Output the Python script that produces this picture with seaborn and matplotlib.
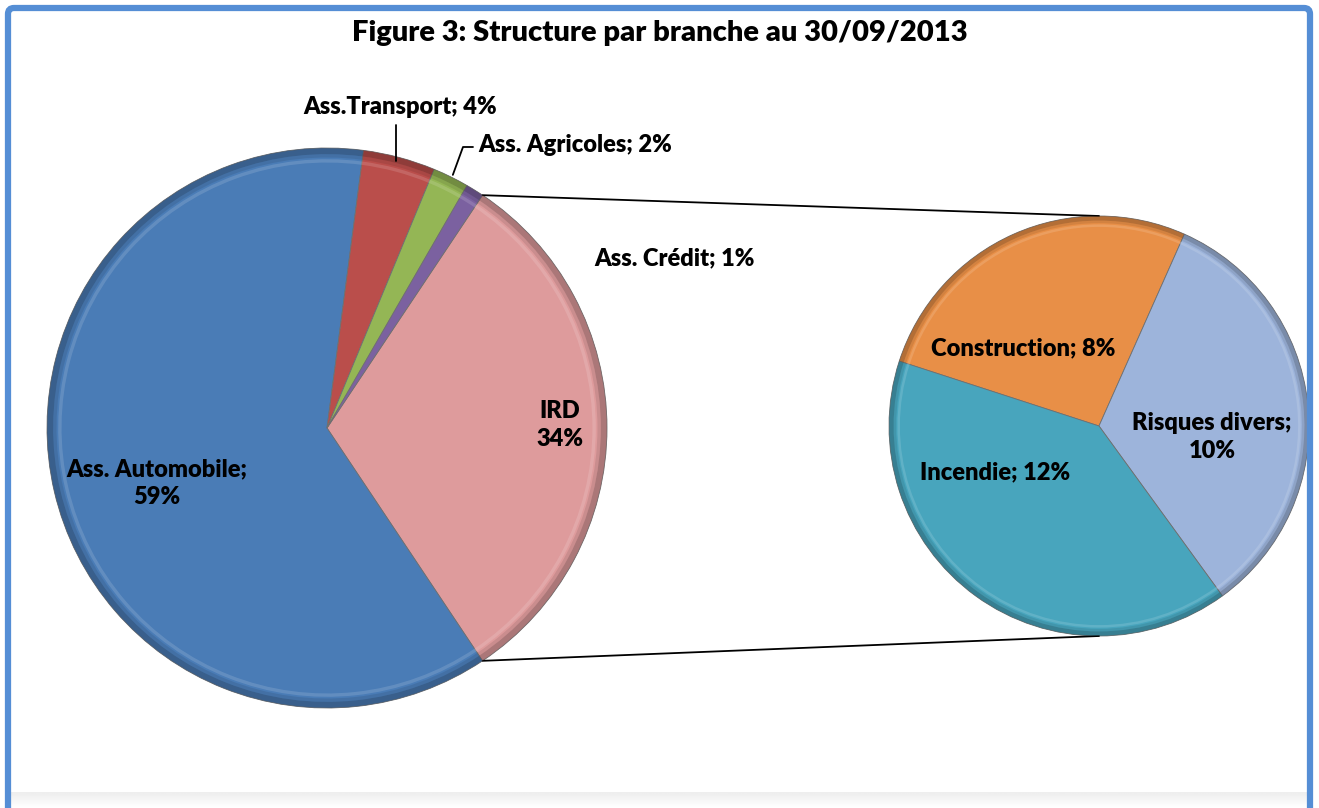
import numpy as np
import matplotlib.pyplot as plt
import matplotlib.patches as mpatches
import seaborn as sns

# Seaborn style, then the font list
sns.set_style("white")
plt.rcParams['font.family'] = ['Lato', 'DejaVu Sans']
plt.rcParams['text.color'] = 'black'

# Data
branches = ['Ass. Automobile', 'Ass.Transport', 'Ass. Agricoles', 'Ass. Crédit']
branch_values = [59, 4, 2, 1]
branch_labels = ['Ass. Automobile;\n59%', 'Ass.Transport; 4%', 'Ass. Agricoles; 2%', 'Ass. Crédit; 1%']
ird_label = 'IRD\n34%'

ird_parts = ['Construction', 'Risques divers', 'Incendie']
ird_values = [8, 10, 12]
ird_part_labels = ['Construction; 8%', 'Risques divers;\n10%', 'Incendie; 12%']

branch_colors = ['#4A7CB6', '#BA4E4B', '#94B655', '#7B61A0']
ird_color = '#DE9B9C'
part_colors = ['#E88F47', '#9DB4DB', '#48A5BD']

title = 'Figure 3: Structure par branche au 30/09/2013'

# Figure in pixel coordinates
W, H = 1319, 808
fig = plt.figure(figsize=(W / 100, H / 100), dpi=100)
ax = fig.add_axes([0, 0, 1, 1])


def bevel(wedges):
    # rough imitation of the Excel bevel: dark rim + light inner line
    for w in wedges:
        fc = np.array(w.get_facecolor()[:3])
        dark = fc * 0.55
        light = np.clip(fc + (1 - fc) * 0.3, 0, 1)
        r = w.r
        ax.add_patch(mpatches.Wedge(w.center, r, w.theta1, w.theta2, width=r * 0.022,
                                    facecolor=dark, edgecolor='none', alpha=0.5, zorder=3))
        ax.add_patch(mpatches.Wedge(w.center, r * 0.978, w.theta1, w.theta2, width=r * 0.012,
                                    facecolor=dark, edgecolor='none', alpha=0.2, zorder=3))
        ax.add_patch(mpatches.Wedge(w.center, r * 0.96, w.theta1, w.theta2, width=r * 0.012,
                                    facecolor=light, edgecolor='none', alpha=0.45, zorder=3))


# Main pie: IRD first, centred on 3 o'clock
main_values = [sum(ird_values)] + branch_values
main_colors = [ird_color] + branch_colors
total = sum(main_values)
main_center = (327, 380)
main_r = 280
main_wedges, _ = ax.pie(main_values, colors=main_colors, startangle=180 * main_values[0] / total,
                        counterclock=False, center=main_center, radius=main_r,
                        wedgeprops=dict(edgecolor='#6f6f6f', linewidth=0.6))
bevel(main_wedges)

# Secondary pie: IRD breakdown
sec_center = (1099, 382)
sec_r = 210
sec_wedges, _ = ax.pie(ird_values, colors=part_colors, startangle=162, counterclock=False,
                       center=sec_center, radius=sec_r,
                       wedgeprops=dict(edgecolor='#6f6f6f', linewidth=0.6))
bevel(sec_wedges)


def rim(w, ang):
    a = np.deg2rad(ang)
    return w.center[0] + w.r * np.cos(a), w.center[1] + w.r * np.sin(a)


# Connector lines between IRD slice and secondary pie
ird_w = main_wedges[0]
x1, y1 = rim(ird_w, ird_w.theta2)
x2, y2 = rim(ird_w, ird_w.theta1)
ax.plot([x1, sec_center[0]], [y1, sec_center[1] + sec_r], color='black', lw=1.3, zorder=2)
ax.plot([x2, sec_center[0]], [y2, sec_center[1] - sec_r], color='black', lw=1.3, zorder=2)

# Labels
lab_kw = dict(fontsize=17, fontweight='heavy', color='black', zorder=5, linespacing=1.3)
ax.text(560, 383, ird_label, ha='center', va='center', **lab_kw)
ax.text(157, 325, branch_labels[0], ha='center', va='center', **lab_kw)
ax.text(400, 701, branch_labels[1], ha='center', va='center', **lab_kw)
ax.text(478, 663, branch_labels[2], ha='left', va='center', **lab_kw)
ax.text(675, 550, branch_labels[3], ha='center', va='center', **lab_kw)

ax.text(1023, 460, ird_part_labels[0], ha='center', va='center', **lab_kw)
ax.text(1212, 371, ird_part_labels[1], ha='center', va='center', **lab_kw)
ax.text(995, 336, ird_part_labels[2], ha='center', va='center', **lab_kw)

# Leader lines
tw = main_wedges[2]
tx, ty = rim(tw, (tw.theta1 + tw.theta2) / 2)
ax.plot([tx - 3, tx - 3], [683, ty - 3], color='black', lw=1.3, zorder=5)
gw = main_wedges[3]
gx, gy = rim(gw, (gw.theta1 + gw.theta2) / 2)
ax.plot([473, 463, gx + 2], [661, 661, gy + 2], color='black', lw=1.3, zorder=5)

# Title
ax.text(660, 775, title, ha='center', va='center', fontsize=21, fontweight='heavy',
        color='black', zorder=5)

# Frame and bottom shade
grad = np.linspace(0.93, 1.0, 20)[:, None] * np.ones((20, 10))
ax.imshow(grad, extent=(10, 1308, 0, 16), cmap='gray', vmin=0, vmax=1, aspect='auto', zorder=1)
ax.add_patch(mpatches.FancyBboxPatch((8, -20), 1302, 820,
                                     boxstyle='round,pad=0,rounding_size=6',
                                     facecolor='none', edgecolor='#558ED5', lw=4.5, zorder=6))
ax.set_xlim(0, W)
ax.set_ylim(0, H)
ax.set_aspect('equal')
ax.axis('off')

fig.savefig('out.png', dpi=100)
